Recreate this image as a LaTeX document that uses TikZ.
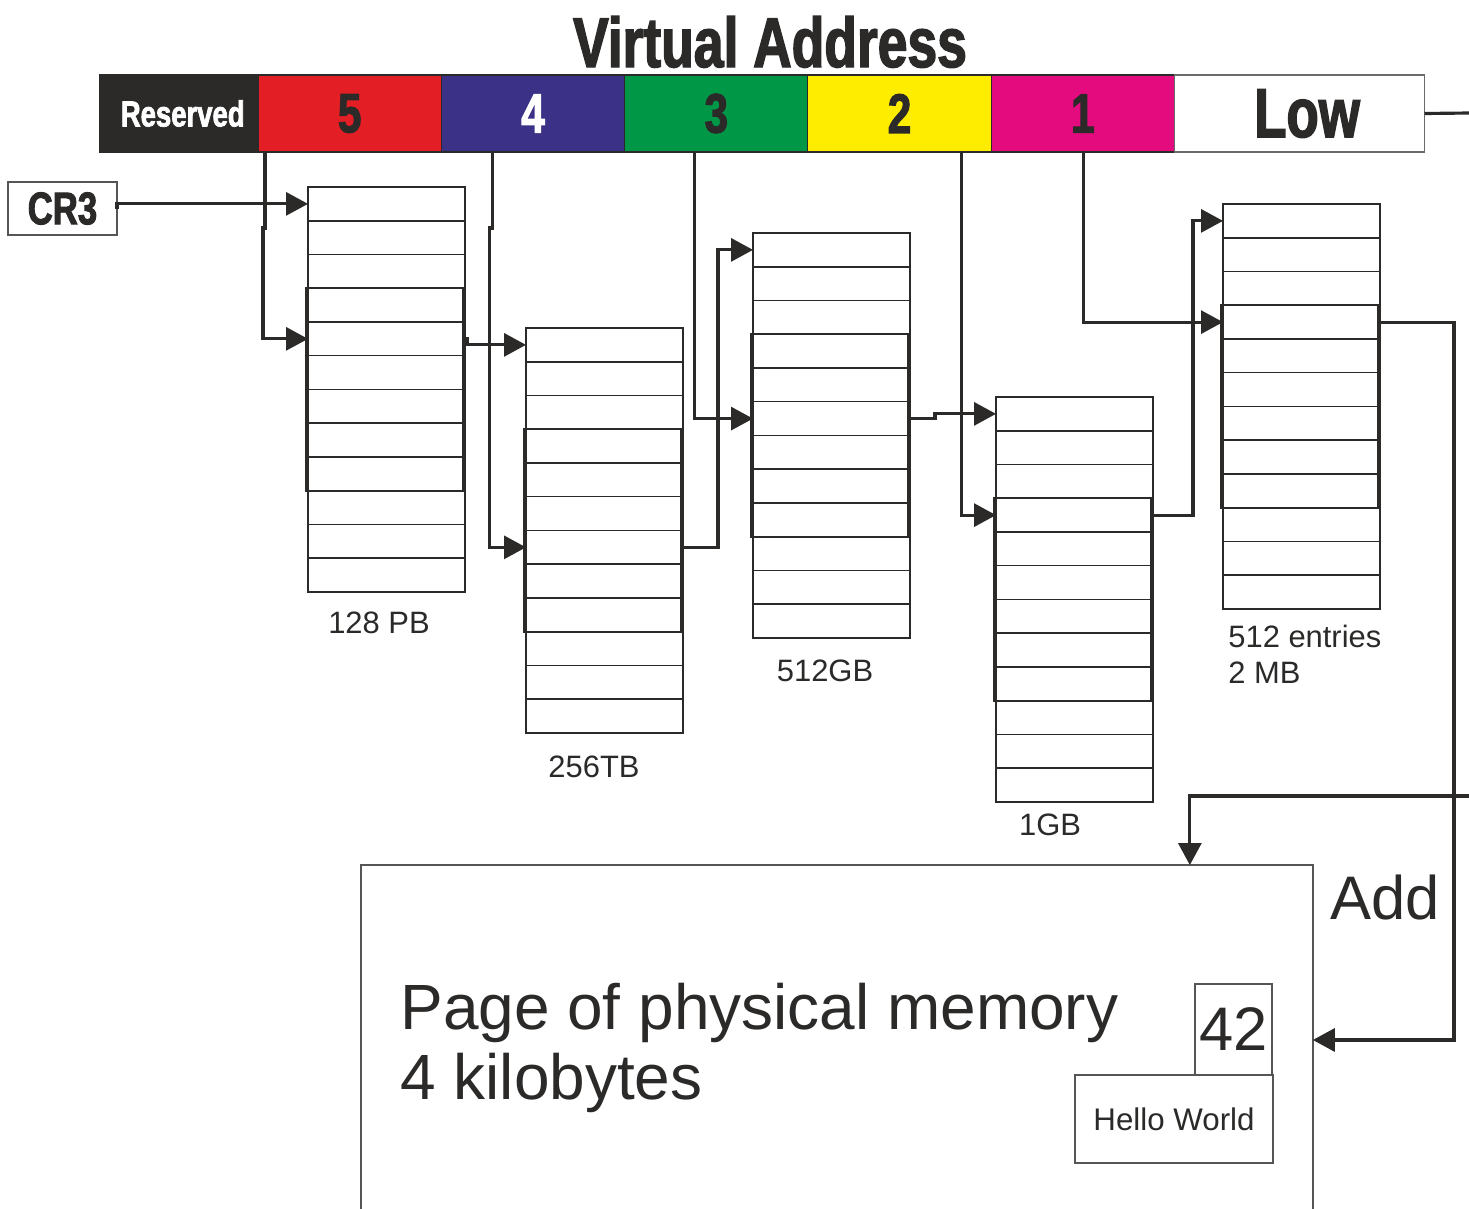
\documentclass[tikz,border=0pt]{standalone}
\usepackage{fontspec}
\setmainfont{Liberation Sans}
\newfontfamily\impactfont[FakeStretch=0.76,FakeBold=2]{Liberation Sans}
\definecolor{ink}{RGB}{43,42,41}
\definecolor{lvlfive}{RGB}{227,30,36}
\definecolor{lvlfour}{RGB}{59,49,135}
\definecolor{lvlthree}{RGB}{0,152,70}
\definecolor{lvltwo}{RGB}{255,237,0}
\definecolor{lvlone}{RGB}{228,11,126}
\usetikzlibrary{arrows.meta,positioning}

\begin{document}
\begin{tikzpicture}[
  x=0.02cm, y=-0.02cm,
  seg/.style={draw=ink, line width=0.6pt, minimum height=1.54cm, minimum width=3.667cm, inner sep=0pt, outer sep=0pt, text=ink, font=\impactfont\bfseries\fontsize{31.7}{34}\selectfont},
  cell/.style={draw=ink, line width=0.85pt, minimum width=3.14cm, minimum height=0.675cm, inner sep=0pt, outer sep=0pt},
  grp/.style={draw=ink, line width=1.3pt},
  thinbox/.style={draw=ink!80, line width=0.8pt, inner sep=0pt, outer sep=0pt, text=ink},
  wire/.style={draw=ink, line width=1.8pt},
  link/.style={wire, -{Triangle[length=0.44cm,width=0.46cm]}},
  lbl/.style={text=ink, font=\fontsize{17.6}{20.4}\selectfont, inner sep=0pt},
  node distance=0pt
]
  \path[fill=white, use as bounding box] (0,0) rectangle (1469,1208);
  \clip (0,0) rectangle (1469,1208);

  \node[text=ink, inner sep=0pt, anchor=base, font=\impactfont\bfseries\fontsize{40}{44}\selectfont] (title) at (770,67) {Virtual Address};

  \node[seg, fill=ink, text=white, minimum width=3.16cm, anchor=north west, font=\impactfont\bfseries\fontsize{20.6}{24}\selectfont] (res) at (100,75) {\hspace{0.15cm}Reserved};
  \node[seg, fill=lvlfive, right=of res] (seg5) {5};
  \node[seg, fill=lvlfour, text=white, right=of seg5] (seg4) {4};
  \node[seg, fill=lvlthree, right=of seg4] (seg3) {3};
  \node[seg, fill=lvltwo, right=of seg3] (seg2) {2};
  \node[seg, fill=lvlone, right=of seg2] (seg1) {1};
  \node[seg, draw=ink!70, fill=white, minimum width=5cm, right=of seg1, font=\impactfont\bfseries\fontsize{39.6}{42}\selectfont] (low) {\hspace{0.3cm}Low};

  \node[thinbox, minimum width=2.18cm, minimum height=1.06cm, anchor=north west, font=\impactfont\bfseries\fontsize{26}{30}\selectfont] (cr3) at (8,182) {CR3};

  \foreach \t/\x/\y in {t1/308/187, t2/526/328, t3/753/233, t4/996/397, t5/1223/204} {
    \node[cell, anchor=north west] (\t-1) at (\x,\y) {};
    \foreach \i [remember=\i as \j (initially 1)] in {2,...,12}
      \node[cell, below=of \t-\j] (\t-\i) {};
    \draw[grp] ([xshift=-0.04cm]\t-4.north west) rectangle ([xshift=-0.04cm]\t-9.south east);
  }

  \node[lbl, anchor=base] (size1) at (379,633) {128 PB};
  \node[lbl, anchor=base] (size2) at (594,777) {256TB};
  \node[lbl, anchor=base] (size3) at (825,681) {512GB};
  \node[lbl, anchor=base] (size4) at (1050,835) {1GB};
  \node[lbl, anchor=north west, align=left] (size5) at (1228,625) {512 entries\\2 MB};

  \node[thinbox, minimum width=19.04cm, minimum height=7cm, anchor=north west] (page) at (361,865) {};
  \node[text=ink, inner sep=0pt, anchor=north west, align=left, font=\fontsize{36.4}{39.7}\selectfont] (pagetxt) at (400,983) {Page of physical memory\\4 kilobytes};
  \node[thinbox, minimum width=1.54cm, minimum height=1.82cm, anchor=north west, font=\fontsize{35}{40}\selectfont] (answer) at (1195,984) {42};
  \node[thinbox, fill=white, minimum width=3.96cm, minimum height=1.76cm, anchor=north west, font=\fontsize{17.8}{20}\selectfont] (hello) at (1075,1075) {Hello World};
  \node[text=ink, inner sep=0pt, anchor=base west, font=\fontsize{35}{40}\selectfont] (addtxt) at (1330,919) {Add};

  \coordinate (edgeA) at (1469,113);
  \coordinate (edgeB) at (1469,796);

  \draw[link] (cr3.east) |- (t1-1.west);
  \draw[link] ([xshift=0.14cm]seg5.south west) -- ++(0,76) -- ++(-2,0) |- (t1-5.west);
  \draw[link] ([xshift=1.02cm]seg4.south west) -- ++(0,76) -- ++(-3,0) |- (t2-7.west);
  \draw[link] ([xshift=1.4cm]seg3.south west) |- (t3-6.west);
  \draw[link] ([xshift=3.08cm]seg2.south west) |- (t4-4.west);
  \draw[link] ([xshift=1.84cm]seg1.south west) |- (t5-4.west);

  \draw[link] (t1-5.east) -- ++(2,0) |- (t2-1.west);
  \draw[link] (t2-7.east) -- ++(35,0) |- (t3-1.west);
  \draw[link] (t3-6.east) -- ++(25,0) |- (t4-1.west);
  \draw[link] (t4-4.east) -- ++(40,0) |- (t5-1.west);
  \draw[link] (t5-4.east) -- ++(74,0) |- (page.east);

  \draw[wire] (low.east) -- (edgeA);
  \draw[link] (edgeB) -| ([xshift=16.58cm]page.north west);
\end{tikzpicture}
\end{document}
